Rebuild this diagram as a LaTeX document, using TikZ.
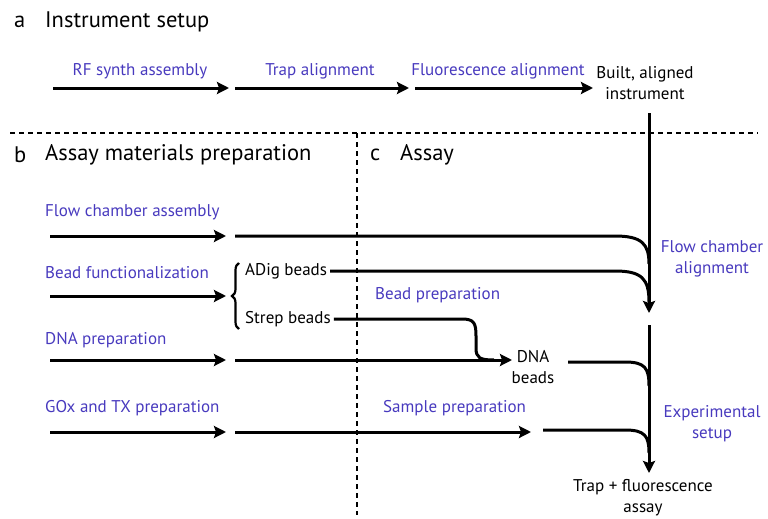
\documentclass[tikz,border=0pt]{standalone}
\usepackage{fontspec}
\setmainfont{PT Sans}
\usetikzlibrary{arrows.meta,decorations.pathreplacing}
\definecolor{lblue}{RGB}{72,58,190}
\begin{document}
\begin{tikzpicture}[x=1pt,y=-1pt,
 flow/.style={line width=3pt, -{Stealth[length=12pt,width=12pt,inset=2pt]}},
 conn/.style={line width=3pt},
 lbl/.style={text=lblue, font=\fontsize{17}{21}\selectfont, inner sep=0pt},
 txt/.style={font=\fontsize{17}{21}\selectfont, inner sep=0pt, align=center},
 ttl/.style={font=\fontsize{22.5}{26}\selectfont, inner sep=0pt, anchor=west},
 sep/.style={line width=1.3pt, dash pattern=on 5pt off 4pt}]
\useasboundingbox (0,0) rectangle (768,519);

% titles
\node[ttl] (la) at (14,22) {a};
\node[ttl] (ta) at (45,22) {Instrument setup};
\node[ttl] (lb) at (14,155) {b};
\node[ttl] (tb) at (45,155) {Assay materials preparation};
\node[ttl] (lc) at (370,155) {c};
\node[ttl] (tc) at (400,155) {Assay};

% separators
\coordinate (h1) at (10,133);
\coordinate (h2) at (758,133);
\coordinate (v1) at (357,133);
\coordinate (v2) at (357,515);
\draw[sep] (h1) -- (h2);
\draw[sep] (v1) -- (v2);

% section a
\coordinate (a1s) at (53,88);  \coordinate (a1e) at (229,88);
\coordinate (a2s) at (235,88); \coordinate (a2e) at (409,88);
\coordinate (a3s) at (415,88); \coordinate (a3e) at (593,88);
\draw[flow] (a1s) -- (a1e);
\draw[flow] (a2s) -- (a2e);
\draw[flow] (a3s) -- (a3e);
\node[lbl] (rf) at (140,71) {RF synth assembly};
\node[lbl] (trap) at (320,71) {Trap alignment};
\node[lbl] (fluo) at (498,71) {Fluorescence alignment};
\node[txt] (built) at (645,83) {Built, aligned\\instrument};

% main vertical
\coordinate (m0) at (649,113);
\coordinate (m1) at (649,313);
\coordinate (m2) at (649,325);
\coordinate (m3) at (649,473);
\draw[flow] (m0) -- (m1);
\draw[flow] (m2) -- (m3);
\node[lbl, align=center] (fca) at (712,259) {Flow chamber\\alignment};
\node[lbl, align=center] (exp) at (712,424) {Experimental\\setup};
\node[txt] (final) at (643,498) {Trap + fluorescence\\assay};

% section b labels
\node[lbl, anchor=west] (flow) at (45,212) {Flow chamber assembly};
\node[lbl, anchor=west] (bead) at (45,273) {Bead functionalization};
\node[lbl, anchor=west] (dna) at (45,340) {DNA preparation};
\node[lbl, anchor=west] (gox) at (45,408) {GOx and TX preparation};

% left arrows
\coordinate (b1s) at (50,236); \coordinate (b1e) at (226,236);
\coordinate (b2s) at (50,296); \coordinate (b2e) at (226,296);
\coordinate (b3s) at (50,360); \coordinate (b3e) at (226,360);
\coordinate (b4s) at (50,432); \coordinate (b4e) at (226,432);
\draw[flow] (b1s) -- (b1e);
\draw[flow] (b2s) -- (b2e);
\draw[flow] (b3s) -- (b3e);
\draw[flow] (b4s) -- (b4e);

% brace and beads
\coordinate (br1) at (239,329);
\coordinate (br2) at (239,263);
\draw[decorate, decoration={brace, amplitude=7pt}, line width=2.2pt] (br1) -- (br2);
\node[txt, anchor=west] (adig) at (245,271) {ADig beads};
\node[txt, anchor=west] (strep) at (245,319) {Strep beads};

% section c labels
\node[lbl, anchor=west] (bprep) at (375,295) {Bead preparation};
\node[lbl, anchor=west] (sprep) at (383,408) {Sample preparation};
\node[txt] (dnab) at (533,367) {DNA\\beads};

% flow chamber line
\coordinate (c1s) at (235,236);
\draw[conn] (c1s) -- (615,236) .. controls (642,236) and (649,244) .. (649,264);
% ADig line
\path (adig.east) ++(3,0) coordinate (c2s);
\draw[conn] (c2s) -- (615,271) .. controls (642,271) and (649,279) .. (649,302);
% Strep line
\path (strep.east) ++(3,0) coordinate (c3s);
\draw[conn] (c3s) -- (462,319) .. controls (474,319) and (476,323) .. (476,336) -- (476,348) .. controls (476,358) and (480,360) .. (494,360);
% DNA line
\coordinate (c4s) at (235,360);
\coordinate (c4e) at (512,360);
\draw[flow] (c4s) -- (c4e);
% DNA beads to main
\coordinate (c5s) at (568,362);
\draw[conn] (c5s) -- (625,362) .. controls (645,362) and (649,368) .. (649,386);
% sample
\coordinate (c6s) at (235,432);
\coordinate (c6e) at (531,432);
\draw[flow] (c6s) -- (c6e);
\coordinate (c7s) at (543,430);
\draw[conn] (c7s) -- (625,430) .. controls (645,430) and (649,436) .. (649,453);
\end{tikzpicture}
\end{document}
